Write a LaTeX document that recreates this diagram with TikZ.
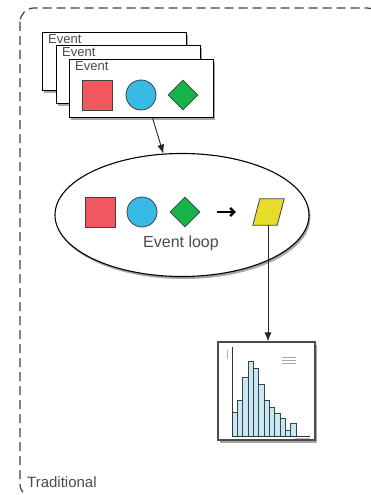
\documentclass[tikz,border=0pt]{standalone}
\usepackage{fontspec}
\setmainfont{Liberation Sans}
\usetikzlibrary{shapes.geometric,shadows,arrows.meta,positioning}
\definecolor{evred}{RGB}{242,88,96}
\definecolor{evblue}{RGB}{56,186,230}
\definecolor{evgreen}{RGB}{22,178,74}
\definecolor{evyellow}{RGB}{232,220,42}
\definecolor{barblue}{RGB}{198,232,244}
\definecolor{labelgray}{RGB}{75,75,75}

\tikzset{
  softshadow/.style={drop shadow={shadow xshift=1.5pt, shadow yshift=-2.5pt, opacity=0.35, fill=black}},
  card/.style={draw, line width=1.1pt, fill=white, minimum width=144pt, minimum height=58pt,
    anchor=north west, inner sep=0pt, softshadow},
  cardlabel/.style={anchor=north west, inner sep=0pt, text=labelgray, font=\fontsize{13}{13}\selectfont},
  sqbox/.style={draw=black!75, line width=0.8pt, fill=evred, minimum size=30pt, inner sep=0pt},
  cibox/.style={circle, draw=black!75, line width=0.8pt, fill=evblue, minimum size=30pt, inner sep=0pt},
  dibox/.style={diamond, draw=black!75, line width=0.8pt, fill=evgreen, minimum size=30pt, inner sep=0pt},
  link/.style={draw=black!85, line width=0.9pt, -{Latex[length=9pt,width=7pt]}}
}

\begin{document}
\begin{tikzpicture}[x=1pt, y=-1pt]
  \clip (0,0) rectangle (371,495);
  % outer frame
  \draw[black!75, line width=1.2pt, dash pattern=on 9pt off 5pt, rounded corners=14pt]
    (20,8) rectangle (381,498);
  \node[anchor=west, inner sep=0pt, text=labelgray, font=\fontsize{15}{15}\selectfont] (trad) at (27,482) {Traditional};

  % stacked events
  \foreach \n/\x/\y in {1/42/32, 2/56/45, 3/69/59}{
    \node[card] (card\n) at (\x,\y) {};
    \node[cardlabel] (lab\n) at (\x+6,\y+2) {Event};
  }
  \node[sqbox] (sq1) at (97,95) {};
  \node[cibox] (ci1) at (141,95) {};
  \node[dibox] (di1) at (183,95) {};

  % event loop
  \node[ellipse, draw, line width=1.1pt, fill=white, minimum width=254pt, minimum height=123pt,
    softshadow] (loop) at (182,215) {};
  \node[sqbox] (sq2) at (100,212) {};
  \node[cibox] (ci2) at (142,212) {};
  \node[dibox] (di2) at (185,212) {};
  \node[minimum width=24pt, minimum height=26pt, inner sep=0pt] (para) at (268,212) {};
  \draw[black!75, line width=0.8pt, fill=evyellow]
    ([xshift=-3pt]para.south west) -- ([xshift=4pt]para.north west)
    -- ([xshift=4pt]para.north east) -- ([xshift=-3pt]para.south east) -- cycle;
  \node[text=labelgray, font=\fontsize{16}{16}\selectfont] (looplab) at (181,243) {Event loop};
  \draw[line width=2.4pt, -{Straight Barb[length=4pt,width=8pt]}, shorten <=17pt, shorten >=20pt] (di2) -- (para);

  % histogram
  \node[draw=black!70, line width=1.1pt, fill=white, minimum width=97pt, minimum height=98pt,
    inner sep=0pt, softshadow] (hist) at (266.5,391) {};
  \foreach \i/\t in {0/412, 1/400, 2/377, 3/361, 4/368, 5/384, 6/400, 7/407, 8/413, 9/418, 10/430, 11/423}{
    \draw[black!75, line width=0.6pt, fill=barblue] (232+\i*5.33,436) rectangle (232+\i*5.33+5.33,\t);
  }
  \draw[black!80, line width=0.9pt] (232,347) -- (232,436) -- (310,436);
  \draw[black!30, line width=0.7pt] (227,350) -- (227,359);
  \foreach \y in {357,360,363}{
    \draw[black!35, line width=0.7pt] (282,\y) -- (296,\y);
  }
  \draw[black!25, line width=0.7pt] (295,438.5) -- (310,438.5);

  % connectors
  \coordinate (cardout) at ([xshift=11pt]card3.south);
  \draw[link] (cardout) -- (loop);
  \draw[link] (para.south) -- (para.south |- hist.north);
\end{tikzpicture}
\end{document}
